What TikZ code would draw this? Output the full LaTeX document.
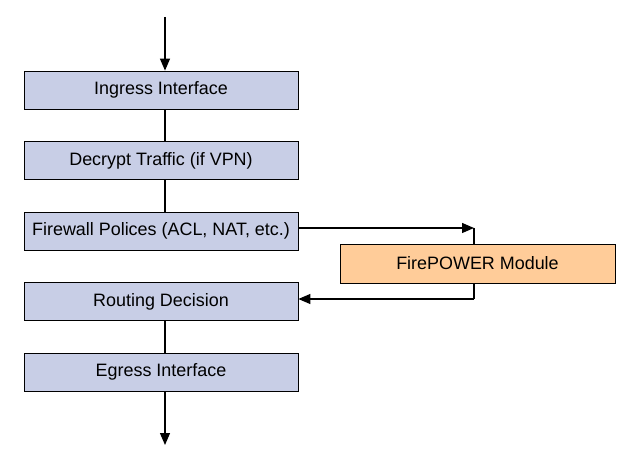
\documentclass[tikz,border=0pt]{standalone}
\usepackage{fontspec}
\setmainfont{Liberation Sans}
\usetikzlibrary{arrows.meta}

\definecolor{stepblue}{RGB}{200,206,230}
\definecolor{moduleorange}{RGB}{255,204,153}

\tikzset{
	stage/.style={draw, line width=0.8bp, fill=stepblue, minimum width=274bp, minimum height=38bp, inner sep=0pt, font=\fontsize{18}{21}\selectfont},
	module/.style={stage, fill=moduleorange, minimum width=275bp, minimum height=39bp},
	flow/.style={line width=1.3bp, -{Triangle[length=12bp,width=10bp]}},
	link/.style={line width=1.3bp}
}

\begin{document}
\begin{tikzpicture}[x=1bp, y=-1bp]
			
			\useasboundingbox (0, 0) rectangle (626, 474);
			
			\node [stage] (ingress) at (161, 90) {Ingress Interface};
			\node [stage] (decrypt) at (161, 160.5) {Decrypt Traffic (if VPN)};
			\node [stage] (firewall) at (161, 231) {Firewall Polices (ACL, NAT, etc.)};
			\node [stage] (routing) at (161, 301.5) {Routing Decision};
			\node [stage] (egress) at (161, 372) {Egress Interface};
			
			\node [module] (firepower) at (477.5, 263.5) {FirePOWER Module};
			
			\coordinate (in) at (165, 17);
			\coordinate (out) at (165, 445);
			\coordinate (toFP) at (474, 228);
			\coordinate (fromFP) at (474, 299);
			
			% main column
			\draw [flow] (in) -- (in |- ingress.north);
			\draw [link] (ingress.south -| in) -- (decrypt.north -| in);
			\draw [link] (decrypt.south -| in) -- (firewall.north -| in);
			\draw [link] (routing.south -| in) -- (egress.north -| in);
			\draw [flow] (egress.south -| in) -- (out);
			
			% detour through the module
			\draw [flow] (firewall.east |- toFP) -- (toFP);
			\draw [link] (toFP) -- (toFP |- firepower.north);
			\draw [link] (toFP |- firepower.south) -- (fromFP);
			\draw [flow] (fromFP) -- (routing.east |- fromFP);
			
			\end{tikzpicture}
\end{document}
